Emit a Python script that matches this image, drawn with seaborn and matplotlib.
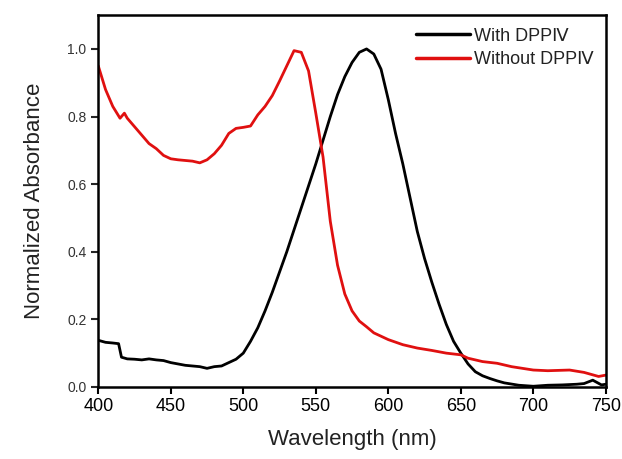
import matplotlib
matplotlib.use("Agg")
import matplotlib.pyplot as plt
import seaborn as sns
import pandas as pd

# With DPPIV (black)
wl_with = [400, 405, 410, 414, 416, 420, 425, 430, 435, 440, 445, 450, 455, 460, 465, 470, 475, 480, 485,
           490, 495, 500, 505, 510, 515, 520, 525, 530, 535, 540, 545, 550, 555, 560, 565, 570, 575, 580,
           585, 590, 595, 600, 605, 610, 615, 620, 625, 630, 635, 640, 645, 650, 655, 660, 665, 670, 675,
           680, 690, 700, 710, 720, 730, 735, 741, 747, 750]
abs_with = [0.138, 0.132, 0.130, 0.128, 0.088, 0.083, 0.082, 0.080, 0.083, 0.080, 0.078, 0.072, 0.068, 0.064,
            0.062, 0.060, 0.055, 0.060, 0.062, 0.072, 0.082, 0.100, 0.135, 0.175, 0.225, 0.280, 0.340, 0.400,
            0.465, 0.530, 0.595, 0.660, 0.730, 0.800, 0.865, 0.918, 0.960, 0.990, 1.000, 0.985, 0.940, 0.850,
            0.750, 0.660, 0.560, 0.460, 0.380, 0.310, 0.245, 0.185, 0.135, 0.100, 0.068, 0.045, 0.033, 0.025,
            0.018, 0.012, 0.005, 0.002, 0.005, 0.006, 0.008, 0.010, 0.020, 0.006, 0.008]

# Without DPPIV (red)
wl_without = [400, 405, 410, 415, 418, 420, 425, 430, 435, 440, 445, 450, 455, 460, 465, 470, 475, 480, 485,
              490, 495, 500, 505, 510, 515, 520, 525, 530, 535, 540, 545, 550, 555, 560, 565, 570, 575, 580,
              585, 590, 600, 610, 620, 630, 640, 650, 655, 665, 675, 685, 700, 710, 725, 735, 745, 750]
abs_without = [0.950, 0.880, 0.830, 0.795, 0.810, 0.795, 0.770, 0.745, 0.720, 0.705, 0.685, 0.675, 0.672, 0.670,
               0.668, 0.663, 0.672, 0.690, 0.715, 0.750, 0.765, 0.768, 0.772, 0.805, 0.830, 0.862, 0.905, 0.950,
               0.995, 0.990, 0.935, 0.810, 0.680, 0.490, 0.360, 0.275, 0.225, 0.195, 0.178, 0.160, 0.140, 0.125,
               0.115, 0.108, 0.100, 0.095, 0.085, 0.075, 0.070, 0.060, 0.050, 0.048, 0.050, 0.043, 0.031, 0.035]

labels = ["With DPPⅣ", "Without DPPⅣ"]
colors = ["#000000", "#e01010"]

df = pd.concat([
    pd.DataFrame({"Wavelength": wl_with, "Abs": abs_with, "Sample": labels[0]}),
    pd.DataFrame({"Wavelength": wl_without, "Abs": abs_without, "Sample": labels[1]}),
])

sns.set_theme(style="ticks")
plt.rcParams["font.family"] = ["Liberation Sans", "DejaVu Sans", "Noto Sans CJK SC"]

fig = plt.figure(figsize=(6.22, 4.59), dpi=100)
ax = fig.add_axes([0.158, 0.157, 0.816, 0.81])

sns.lineplot(data=df, x="Wavelength", y="Abs", hue="Sample", palette=colors,
             linewidth=2.0, ax=ax, sort=False, estimator=None)

ax.set_xlim(400, 750)
ax.set_ylim(0, 1.1)
ax.set_xticks([400, 450, 500, 550, 600, 650, 700, 750])
ax.set_yticks([0.0, 0.2, 0.4, 0.6, 0.8, 1.0])
ax.set_yticklabels(["0.0", "0.2", "0.4", "0.6", "0.8", "1.0"])
ax.tick_params(axis="x", labelsize=13, direction="out", length=5, width=1.5, colors="black", pad=3)
ax.tick_params(axis="y", labelsize=10, direction="out", length=5, width=1.5, labelcolor="#333333")
for s in ax.spines.values():
    s.set_linewidth(1.8)
    s.set_color("black")
ax.set_xlabel("Wavelength (nm)", fontsize=16, labelpad=10, color="#222222")
ax.set_ylabel("Normalized Absorbance", fontsize=16, labelpad=16, color="#222222")

leg = ax.legend(title=None, frameon=False, loc="upper right", fontsize=13,
                handlelength=3.0, handletextpad=0.2, borderaxespad=0.3, labelspacing=0.35)
for line in leg.get_lines():
    line.set_linewidth(2.5)
for t in leg.get_texts():
    t.set_color("#222222")

fig.savefig("out.png", dpi=100)
